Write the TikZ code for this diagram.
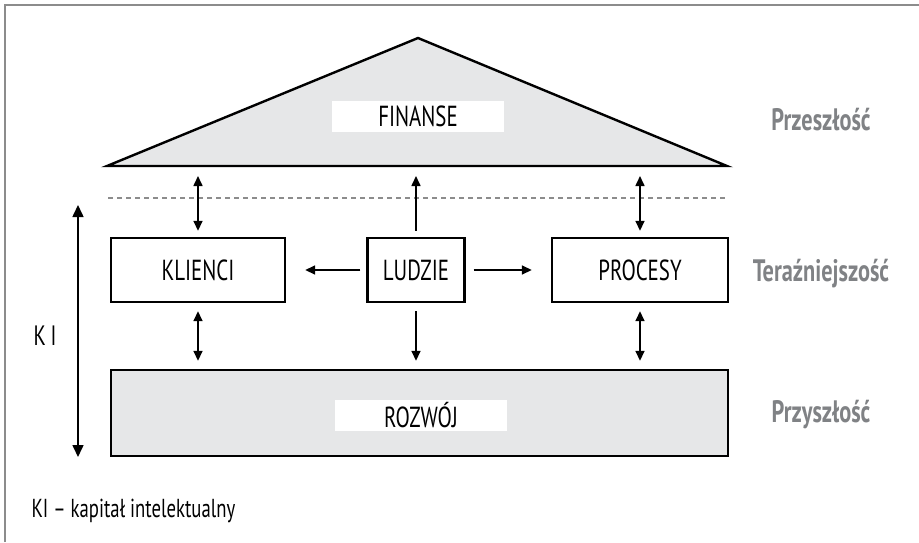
\documentclass[tikz,border=0pt]{standalone}
\usepackage{fontspec}
\setmainfont{PT Sans}[FakeStretch=0.72]
\usetikzlibrary{arrows.meta}
\definecolor{boxgray}{HTML}{E6E7E8}
\definecolor{labelgray}{HTML}{808285}
\definecolor{framegray}{HTML}{8C8C8C}
\tikzset{
  box/.style={draw, line width=2.4pt, minimum height=64pt, inner sep=0pt,
    font=\fontsize{29}{34}\selectfont},
  tag/.style={fill=white, minimum width=172pt, minimum height=31pt, inner sep=0pt,
    font=\fontsize{29}{34}\selectfont},
  link/.style={line width=1.6pt},
  era/.style={text=labelgray, anchor=base, font=\bfseries\fontsize{31}{36}\selectfont},
}
\begin{document}
\begin{tikzpicture}[x=1pt,y=-1pt,>={Triangle[length=10pt,width=9pt]}]
        \useasboundingbox (0,0) rectangle (919,542);
        %% frame
        \draw[framegray,line width=2pt] (5,542) -- (5,5) -- (919,5);
        %% roof
        \coordinate (roofL) at (107,166);
        \coordinate (apex) at (418,38);
        \coordinate (roofR) at (727,166);
        \draw[line width=2.4pt,fill=boxgray,line join=miter] (roofL) -- (apex) -- (roofR) -- cycle;
        \node[tag] (finanse) at (418,116.5) {FINANSE};
        %% boundary between past and present
        \coordinate (dashL) at (108,198);
        \coordinate (dashR) at (727,198);
        \draw[framegray,line width=1.5pt,dash pattern=on 5pt off 4pt] (dashL) -- (dashR);
        %% middle row
        \node[box,minimum width=174pt] (klienci) at (198,270) {KLIENCI};
        \node[box,minimum width=97pt] (ludzie) at (416,270) {LUDZIE};
        \node[box,minimum width=176pt] (procesy) at (640,270) {PROCESY};
        %% base
        \node[box,fill=boxgray,minimum width=617pt,minimum height=86pt] (rozwoj) at (419.5,413) {};
        \node[tag] (rozwojtag) at (421,415.5) {ROZWÓJ};
        %% roof <-> middle row
        \draw[link,<->,shorten <=6pt,shorten >=10pt] (klienci.north) -- (klienci.north |- roofL);
        \draw[link,->,shorten <=6pt,shorten >=10pt] (ludzie.north) -- (ludzie.north |- roofL);
        \draw[link,<->,shorten <=6pt,shorten >=10pt] (procesy.north) -- (procesy.north |- roofL);
        %% middle row <-> base
        \draw[link,<->,shorten <=8pt,shorten >=8pt] (klienci.south) -- (klienci.south |- rozwoj.north);
        \draw[link,->,shorten <=8pt,shorten >=8pt] (ludzie.south) -- (ludzie.south |- rozwoj.north);
        \draw[link,<->,shorten <=8pt,shorten >=8pt] (procesy.south) -- (procesy.south |- rozwoj.north);
        %% people -> sides
        \draw[link,->,shorten <=6pt,shorten >=19pt] (ludzie.west) -- (klienci.east);
        \draw[link,->,shorten <=8pt,shorten >=19pt] (ludzie.east) -- (procesy.west);
        %% KI axis
        \coordinate (kiTop) at (78,205);
        \coordinate (kiBot) at (78,457);
        \draw[link,<->,>={Triangle[length=12pt,width=11pt]}] (kiTop) -- (kiBot);
        \node[font=\fontsize{28}{32}\selectfont] (ki) at (45,336) {K\,I};
        %% time labels
        \node[era] (past) at (821,130) {Przeszłość};
        \node[era] (present) at (821,281) {Teraźniejszość};
        \node[era] (future) at (821,422) {Przyszłość};
        %% legend
        \node[anchor=west,font=\fontsize{26}{30}\selectfont] (legend) at (28,511) {KI – kapitał intelektualny};
\end{tikzpicture}
\end{document}
